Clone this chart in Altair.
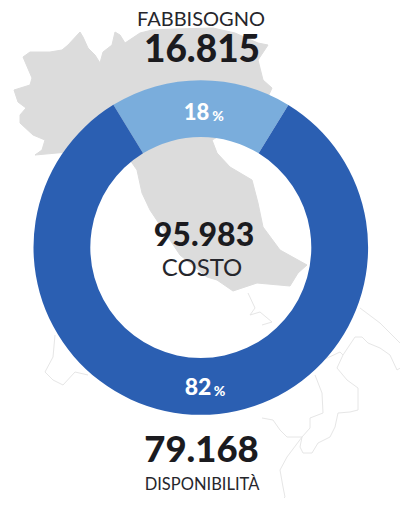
import altair as alt

# Values
segment_names = ["FABBISOGNO", "DISPONIBILITÀ"]
segment_values = [16815, 79168]
segment_colors = ["#7aaddc", "#2b5fb2"]
total_cost = 95983

# Map outline, in map units
land_x = [23, 30, 50, 62, 68, 80, 83, 88, 95, 100, 103, 112, 115, 120, 125, 140, 152, 175, 213, 235, 258, 268, 258, 263, 272,
          262, 240, 212, 217, 230, 252, 258, 263, 280, 307, 298, 290, 257, 233, 217, 207, 180, 150, 142, 137, 130, 90, 35,
          42, 45, 33, 20, 20, 26, 18, 14, 30, 32, 23]
land_y = [57, 52, 52, 50, 45, 32, 37, 48, 55, 63, 52, 45, 32, 35, 43, 33, 30, 29, 28, 33, 43, 45, 60, 80, 88,
          110, 125, 140, 153, 167, 180, 203, 227, 250, 265, 273, 286, 283, 291, 280, 277, 255, 210, 193, 170, 160, 150, 155,
          150, 140, 135, 123, 115, 108, 102, 90, 85, 78, 62]
south_x = [360, 380, 407, 405, 397, 390, 380, 368, 362, 355, 343, 337, 347, 358, 358, 350, 338, 335, 330, 318, 312, 303, 300, 302, 310, 310, 323, 322, 315]
south_y = [308, 323, 350, 365, 370, 355, 348, 343, 337, 337, 355, 368, 380, 388, 410, 412, 413, 427, 437, 443, 453, 453, 447, 437, 428, 418, 413, 393, 375]
sicily_x = [302, 287, 280, 283, 285, 278]
sicily_y = [437, 457, 470, 487, 497, 505]
coast_x = [302, 287, 280, 273, 262]
coast_y = [437, 437, 430, 420, 418]
lazio_x = [248, 255, 250, 260, 272, 262]
lazio_y = [293, 308, 315, 312, 322, 325]
sea_x = [323, 340, 343]
sea_y = [360, 352, 355]
west_x = [55, 53, 45, 53, 63, 75, 88]
west_y = [335, 357, 372, 380, 385, 372, 375]

OFF = 8
CX, CY = 200.8 - OFF, 247.5 - OFF
ROT = 0.55
TAU = 6.283185307


def line_feature(xs, ys):
    return {"type": "Feature", "properties": {},
            "geometry": {"type": "LineString", "coordinates": [[a, b] for a, b in zip(xs, ys)]}}


proj = alt.Projection(type="identity", scale=1, translate=[-OFF, -OFF])

land = alt.Chart(alt.Data(values=[{
    "type": "Feature", "properties": {},
    "geometry": {"type": "Polygon", "coordinates": [[[a, b] for a, b in zip(land_x, land_y)]]},
}])).mark_geoshape(fill="#dcdcdc", stroke="#dcdcdc", strokeWidth=1).project(**proj.to_dict())

borders = alt.Chart(alt.Data(values=[
    line_feature(south_x, south_y), line_feature(sicily_x, sicily_y), line_feature(coast_x, coast_y),
    line_feature(lazio_x, lazio_y), line_feature(sea_x, sea_y), line_feature(west_x, west_y),
])).mark_geoshape(filled=False, stroke="#e6e6e6", strokeWidth=1).project(**proj.to_dict())

rows = [{"name": n, "value": v, "rank": i} for i, (n, v) in enumerate(zip(segment_names, segment_values))]
ring = alt.Chart(alt.Data(values=rows)).mark_arc(radius=167.3, radius2=110.5).encode(
    theta=alt.Theta("value:Q", stack=True,
                    scale=alt.Scale(domain=[0, total_cost], range=[-ROT, TAU - ROT])),
    color=alt.Color("name:N", scale=alt.Scale(domain=segment_names, range=segment_colors), legend=None),
    order=alt.Order("rank:Q"),
    x=alt.value(CX), y=alt.value(CY),
)


def label(t, x, y, size, weight="normal", color="#1b1b1f", font="Lato", align="center"):
    return alt.Chart(alt.Data(values=[{"t": t}])).mark_text(
        font=font, fontSize=size, fontWeight=weight, color=color, align=align, baseline="middle"
    ).encode(x=alt.value(x - OFF), y=alt.value(y - OFF), text="t:N")


texts = [
    label("FABBISOGNO", 201, 19.5, 20, "normal", "#26262c"),
    label("16.815", 202, 51, 37, 900),
    label("18", 196.5, 113, 22, 900, "#ffffff"),
    label("%", 218, 117, 14, 900, "#ffffff"),
    label("95.983", 204, 236, 32, 900),
    label("COSTO", 202, 268.5, 24, "normal", "#26262c"),
    label("82", 198, 388, 23, 900, "#ffffff"),
    label("%", 219.5, 391.5, 14, 900, "#ffffff"),
    label("79.168", 201.5, 451, 36.5, 900),
    label("DISPONIBILITÀ", 202, 485, 16.5, "normal", "#26262c"),
]

chart = alt.layer(land, borders, ring, *texts).properties(
    width=392, height=490, padding=0, autosize=alt.AutoSizeParams(type="none")
).configure_view(stroke=None)

chart.save("out.html", embed_options={"renderer": "svg", "actions": False})
